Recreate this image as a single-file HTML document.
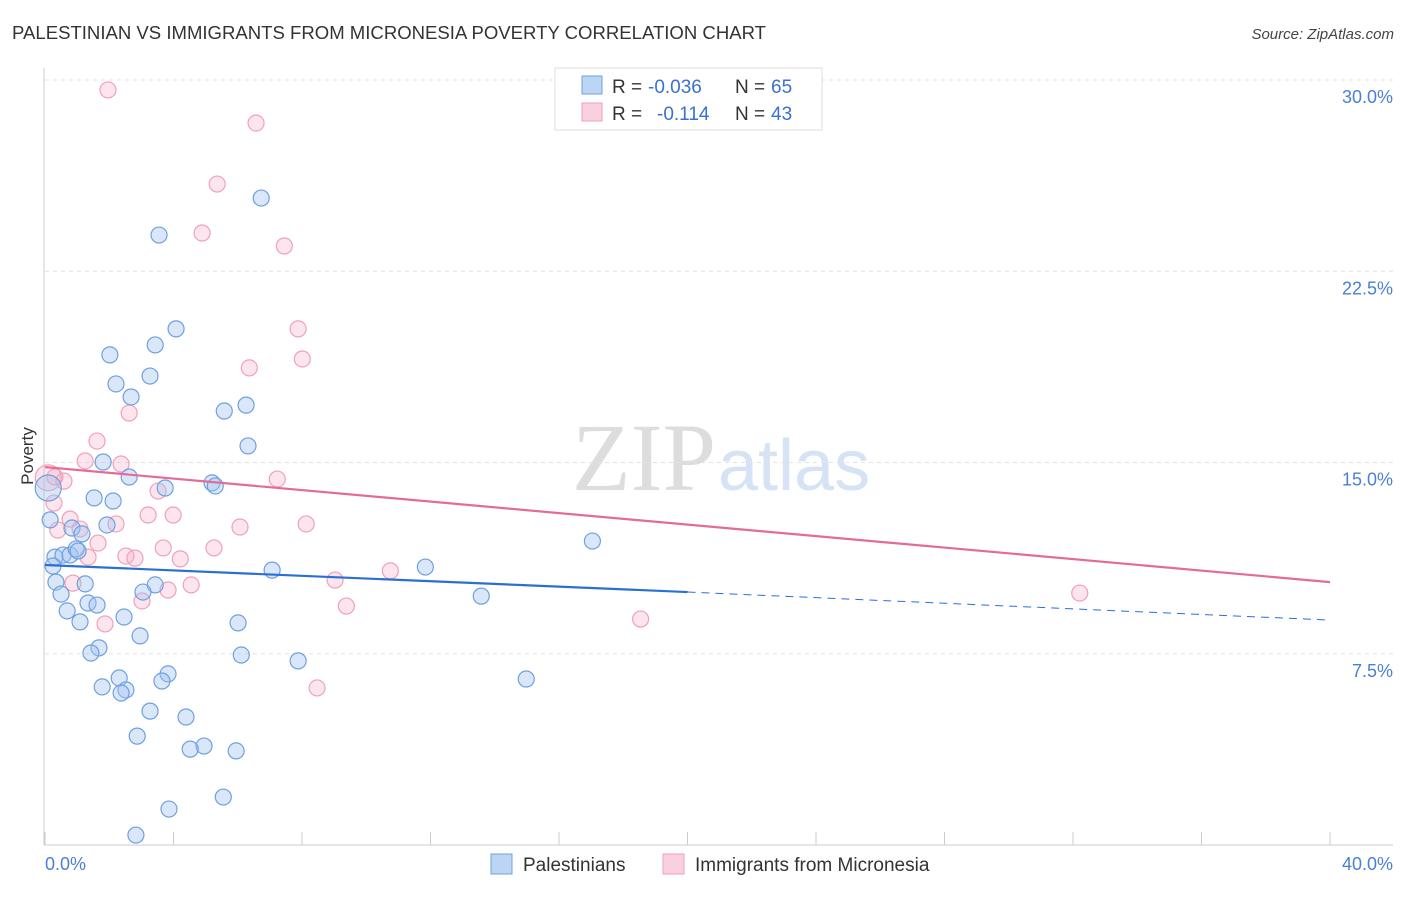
<!DOCTYPE html>
<html><head><meta charset="utf-8"><style>
body{margin:0;background:#fff;font-family:"Liberation Sans",sans-serif;}
</style></head><body>
<svg width="1406" height="892" xmlns="http://www.w3.org/2000/svg" font-family="Liberation Sans, sans-serif">
<text x="12" y="39" font-size="18" fill="#333" textLength="754" lengthAdjust="spacingAndGlyphs">PALESTINIAN VS IMMIGRANTS FROM MICRONESIA POVERTY CORRELATION CHART</text>
<text x="1394" y="39" font-size="15" fill="#444" text-anchor="end" font-style="italic">Source: ZipAtlas.com</text>
<text x="716" y="490" font-size="96" fill="#ddd" text-anchor="end" font-family="Liberation Serif, serif">ZIP</text>
<text x="718" y="490" font-size="72" fill="#d5e3f5">atlas</text>
<g id="grid"></g>
<line x1="44" y1="68" x2="44" y2="845" stroke="#ccc"/>
<line x1="44" y1="845" x2="1393" y2="845" stroke="#ccc"/>
<g id="ticks"></g>
<text transform="translate(33,456) rotate(-90)" font-size="17" fill="#333" text-anchor="middle">Poverty</text>
<text x="45" y="870" font-size="18" fill="#4a7fd6">0.0%</text>
<text x="1393" y="870" font-size="18" fill="#4a7fd6" text-anchor="end">40.0%</text>
<g id="pts"></g>
<g id="lines"></g>
<g font-size="19">
<rect x="555" y="68" width="267" height="62" fill="#fff" stroke="#ddd"/>
<rect x="582" y="76" width="20" height="18" fill="#bcd5f5" stroke="#6fa0e0"/>
<rect x="582" y="103" width="20" height="18" fill="#fbd0dd" stroke="#f0a0bb"/>
<text x="612" y="93" fill="#333">R =</text><text x="648" y="93" fill="#3a70d0">-0.036</text>
<text x="735" y="93" fill="#333">N =</text><text x="771" y="93" fill="#3a70d0">65</text>
<text x="612" y="120" fill="#333">R =</text><text x="657" y="120" fill="#3a70d0">-0.114</text>
<text x="735" y="120" fill="#333">N =</text><text x="771" y="120" fill="#3a70d0">43</text>
</g>
<g>
<rect x="491" y="854" width="21" height="20" fill="#bcd5f5" stroke="#6fa0e0"/>
<text x="523" y="871" font-size="19" fill="#333">Palestinians</text>
<rect x="663" y="854" width="21" height="20" fill="#fbd0dd" stroke="#f0a0bb"/>
<text x="695" y="871" font-size="19" fill="#333">Immigrants from Micronesia</text>
</g>
</svg>
<script>
const yTicks=[7.5,15,22.5,30];
const yTickLabels=["7.5%","15.0%","22.5%","30.0%"];
const xTicks=[0,4,8,12,16,20,24,28,32,36,40];
const blueX=[6.73,3.55,4.08,2.02,3.43,3.27,2.21,2.68,6.26,5.58,6.32,1.81,2.62,3.74,5.20,5.30,1.53,2.12,1.93,0.84,1.15,0.16,0.31,0.56,0.78,0.97,1.03,0.25,17.04,11.84,7.07,0.34,1.25,3.43,3.05,0.50,13.58,1.34,1.62,0.69,2.46,1.09,6.01,2.96,1.68,1.43,6.11,7.88,2.31,3.83,3.64,14.98,1.78,2.52,2.37,3.27,4.39,2.87,4.95,4.52,5.95,5.55,3.86,2.83,0.1];
const blueY=[25.37,23.92,20.24,19.22,19.61,18.39,18.08,17.57,17.25,17.02,15.65,15.02,14.43,14.0,14.2,14.08,13.61,13.49,12.55,12.43,12.2,12.75,11.29,11.37,11.37,11.61,11.53,10.94,11.92,10.9,10.78,10.31,10.24,10.2,9.92,9.84,9.76,9.49,9.41,9.18,8.94,8.75,8.71,8.2,7.73,7.53,7.45,7.22,6.55,6.71,6.43,6.51,6.2,6.08,5.96,5.25,5.02,4.27,3.88,3.76,3.69,1.88,1.41,0.39,14.0];
const pinkX=[1.96,6.57,5.36,4.89,7.45,7.88,8.01,6.36,2.62,1.62,2.37,1.25,0.31,0.59,7.23,3.52,0.28,3.99,3.21,2.21,0.78,1.09,0.40,8.13,6.07,1.65,1.34,2.52,2.80,5.26,3.68,4.21,0.87,4.55,3.83,9.03,10.75,3.02,9.38,1.87,18.54,8.47,32.21,0.1];
const pinkY=[29.61,28.31,25.92,24.0,23.49,20.24,19.06,18.71,16.94,15.84,14.94,15.06,14.43,14.27,14.35,13.88,13.41,12.94,12.94,12.59,12.78,12.39,12.35,12.59,12.47,11.84,11.29,11.33,11.25,11.65,11.65,11.22,10.27,10.2,10.0,10.39,10.75,9.57,9.37,8.67,8.86,6.16,9.88,14.4];
const blueTrend=[10.98,9.92,8.82];
const pinkTrend=[14.82,10.31];
const sx=v=>45+v/40*1285, sy=v=>845-v/30*765;
const NS="http://www.w3.org/2000/svg";
function mk(t,a,p){const e=document.createElementNS(NS,t);for(const k in a)e.setAttribute(k,a[k]);document.getElementById(p).appendChild(e);return e;}
yTicks.forEach((v,i)=>{
 const l=mk('line',{x1:45,x2:1393,y1:sy(v),y2:sy(v),stroke:'#e3e3e3','stroke-dasharray':'4,4'},'grid');
 
 
 const t=mk('text',{x:1393,y:sy(v)+23,'font-size':18,fill:'#4a7fd6','text-anchor':'end'},'grid');
 t.textContent=yTickLabels[i];
 
 
});
xTicks.forEach(v=>{
 const l=mk('line',{x1:sx(v),x2:sx(v),y1:832,y2:845,stroke:'#ccc'},'ticks');
 
 
});
pinkX.forEach((x,i)=>{
 const c=mk('circle',{cx:sx(x),cy:sy(pinkY[i]),r:i==43?13:8,fill:'rgba(245,170,195,0.3)',stroke:'#f0a0bb','stroke-width':1.2},'pts');
 
 
});
blueX.forEach((x,i)=>{
 const c=mk('circle',{cx:sx(x),cy:sy(blueY[i]),r:i==64?13:8,fill:'rgba(160,196,240,0.4)',stroke:'#6fa0e0','stroke-width':1.2},'pts');
 
 
});
let l=mk('line',{x1:sx(0),y1:sy(blueTrend[0]),x2:sx(20),y2:sy(blueTrend[1]),stroke:'#2a6fd6','stroke-width':2.2},'lines');


l=mk('line',{x1:sx(20),y1:sy(blueTrend[1]),x2:sx(40),y2:sy(blueTrend[2]),stroke:'#2a6fd6','stroke-width':1,'stroke-dasharray':'8,6'},'lines');


l=mk('line',{x1:sx(0),y1:sy(pinkTrend[0]),x2:sx(40),y2:sy(pinkTrend[1]),stroke:'#e46b98','stroke-width':2.2},'lines');


</script>
</body></html>
